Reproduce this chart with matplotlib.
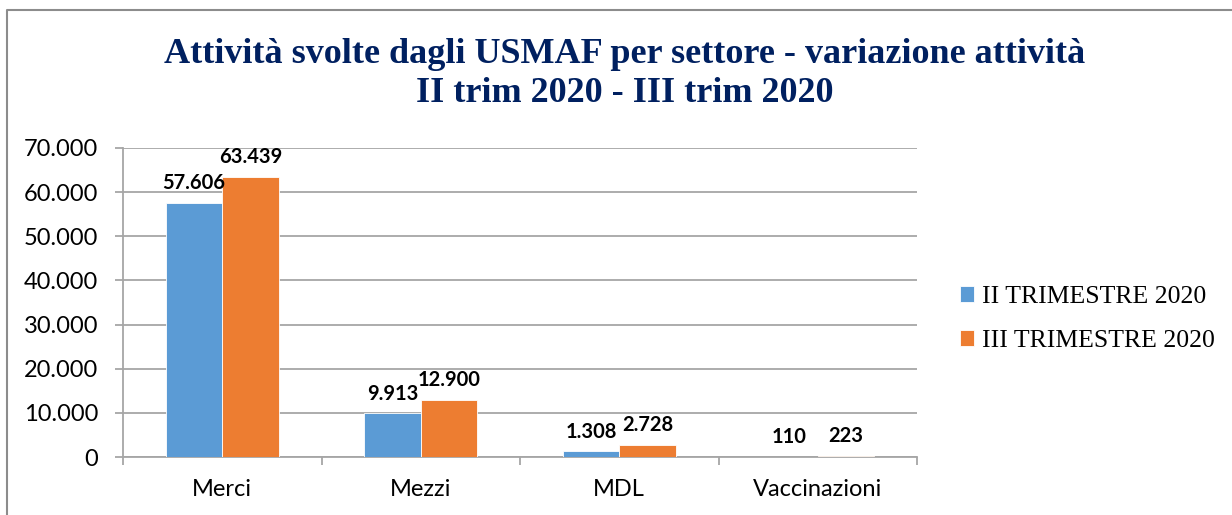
import matplotlib
matplotlib.use("Agg")
import matplotlib.pyplot as plt
from matplotlib.lines import Line2D
from matplotlib.ticker import FuncFormatter, FixedLocator
import numpy as np

# dati
settori = ["Merci", "Mezzi", "MDL", "Vaccinazioni"]
trim_II = [57606, 9913, 1308, 110]
trim_III = [63439, 12900, 2728, 223]
serie = ["II TRIMESTRE 2020", "III TRIMESTRE 2020"]
titolo_1 = "Attività svolte dagli USMAF per settore - variazione attività"
titolo_2 = "II trim 2020 - III trim 2020"

blu = "#5B9BD5"
arancio = "#ED7D31"
grigio = "#A6A6A6"

def it_fmt(v):
    return "{:,.0f}".format(v).replace(",", ".")

fig = plt.figure(figsize=(12.32, 5.15), dpi=100)
ax = fig.add_axes([123/1232, 1 - 457/515, (917-123)/1232, (457-148)/515])

x = np.arange(len(settori))
w = 0.285
b1 = ax.bar(x - w/2, trim_II, w, color=blu, label=serie[0], zorder=3,
            edgecolor="white", linewidth=0.6)
b2 = ax.bar(x + w/2, trim_III, w, color=arancio, label=serie[1], zorder=3,
            edgecolor="white", linewidth=0.6)

# etichette valori
for bars in (b1, b2):
    for r in bars:
        v = r.get_height()
        ax.annotate(it_fmt(v), (r.get_x() + r.get_width()/2, v),
                    xytext=(0, 7), textcoords="offset points",
                    ha="center", va="bottom", fontsize=14.5, fontweight="bold",
                    family="Lato", color="black")

ax.set_xlim(-0.5, len(settori) - 0.5)
ax.set_ylim(0, 70000)
ax.set_yticks(np.arange(0, 70001, 10000))
ax.yaxis.set_major_formatter(FuncFormatter(lambda v, p: it_fmt(v)))
ax.grid(axis="y", color=grigio, linewidth=1.3, zorder=0)

ax.set_xticks(x)
ax.set_xticklabels(settori)
ax.xaxis.set_minor_locator(FixedLocator(np.arange(-0.5, len(settori), 1.0)))
ax.tick_params(axis="x", which="major", length=0, pad=16)
ax.tick_params(axis="x", which="minor", length=6, width=1.3, color=grigio)
ax.tick_params(axis="y", length=6, width=1.3, color=grigio, pad=12)
for lab in ax.get_xticklabels() + ax.get_yticklabels():
    lab.set_family("Lato")
    lab.set_fontsize(17)
    lab.set_color("black")

for s in ["top", "right"]:
    ax.spines[s].set_visible(False)
for s in ["left", "bottom"]:
    ax.spines[s].set_color(grigio)
    ax.spines[s].set_linewidth(1.3)

# titolo
fig.text(625/1232, 1 - 63/515, titolo_1, ha="center", va="baseline",
         family="Liberation Serif", fontweight="bold", fontsize=26, color="#002060")
fig.text(625/1232, 1 - 102/515, titolo_2, ha="center", va="baseline",
         family="Liberation Serif", fontweight="bold", fontsize=26, color="#002060")

# legenda
fig.legend(handles=[b1, b2], labels=serie, loc="center left",
           bbox_to_anchor=(937/1232, 1 - 319/515), frameon=False,
           prop={"family": "Liberation Serif", "size": 18.5},
           handlelength=0.55, handleheight=0.55, handletextpad=0.3,
           labelspacing=0.85)

# cornice
fig.add_artist(Line2D([7/1232, 7/1232, 1.0], [0.0, 1 - 10/515, 1 - 10/515],
                      transform=fig.transFigure, color="#8C8C8C", linewidth=1.5))

fig.savefig("out.png", dpi=100)
